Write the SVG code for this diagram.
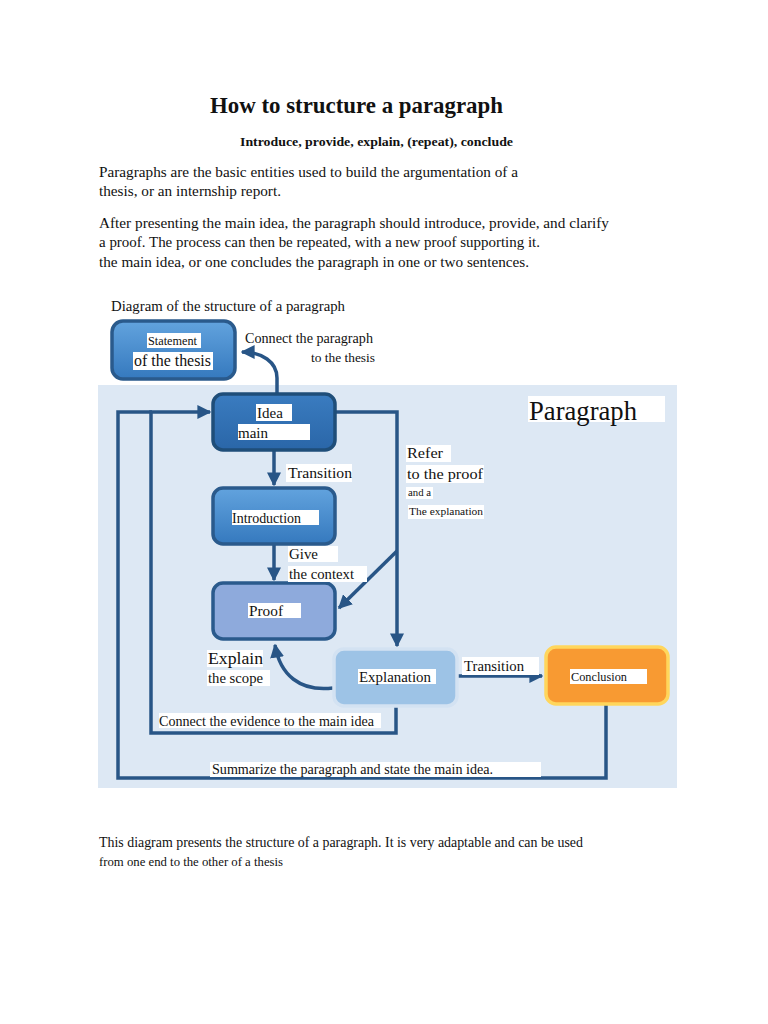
<svg xmlns="http://www.w3.org/2000/svg" width="768" height="1024" viewBox="0 0 768 1024">
<style>
.serif{font-family:"Liberation Serif","Times New Roman",serif;fill:#111}
.lbl{fill:#fff}
.con{fill:none;stroke:#285586;stroke-width:3.5}
.node{stroke-width:3.5}
</style>
<defs>
<linearGradient id="gBlue" x1="0" y1="0" x2="0" y2="1">
<stop offset="0" stop-color="#62a3de"/>
<stop offset="1" stop-color="#3579be"/>
</linearGradient>
<linearGradient id="gIdea" x1="0" y1="0" x2="0" y2="1">
<stop offset="0" stop-color="#3a7cc0"/>
<stop offset="1" stop-color="#2a66a8"/>
</linearGradient>
<marker id="arr" viewBox="0 0 10 10" refX="9" refY="5" markerWidth="4" markerHeight="4" orient="auto" markerUnits="strokeWidth">
<path d="M0,0 L10,5 L0,10 z" fill="#285586"/>
</marker>
</defs>
<rect width="768" height="1024" fill="#fff"/>

<g id="header">
<text class="serif" x="210" y="113" font-size="23" font-weight="bold" textLength="293" lengthAdjust="spacingAndGlyphs">How to structure a paragraph</text>
<text class="serif" x="240" y="146" font-size="13.5" font-weight="bold" textLength="273" lengthAdjust="spacingAndGlyphs">Introduce, provide, explain, (repeat), conclude</text>
<text class="serif" x="99" y="177" font-size="15" textLength="419" lengthAdjust="spacingAndGlyphs">Paragraphs are the basic entities used to build the argumentation of a</text>
<text class="serif" x="99" y="196" font-size="15" textLength="182" lengthAdjust="spacingAndGlyphs">thesis, or an internship report.</text>
<text class="serif" x="99" y="228" font-size="15" textLength="510" lengthAdjust="spacingAndGlyphs">After presenting the main idea, the paragraph should introduce, provide, and clarify</text>
<text class="serif" x="99" y="247" font-size="15" textLength="441" lengthAdjust="spacingAndGlyphs">a proof. The process can then be repeated, with a new proof supporting it.</text>
<text class="serif" x="99" y="267" font-size="15" textLength="430" lengthAdjust="spacingAndGlyphs">the main idea, or one concludes the paragraph in one or two sentences.</text>
</g>

<text class="serif" x="111" y="311" font-size="14.8" textLength="234" lengthAdjust="spacingAndGlyphs">Diagram of the structure of a paragraph</text>

<rect id="panel" x="98" y="385" width="579" height="403" fill="#dde8f4"/>

<g id="panel-title">
<rect class="lbl" x="528" y="396" width="137" height="26"/>
<text class="serif" x="529" y="420" font-size="27" textLength="108" lengthAdjust="spacingAndGlyphs">Paragraph</text>
</g>

<g id="connectors">
<path class="con" d="M277,393 L277,378 C277,362 262,352 242,352" marker-end="url(#arr)"/>
<path class="con" d="M274,450 L274,485" marker-end="url(#arr)"/>
<path class="con" d="M274,545 L274,580" marker-end="url(#arr)"/>
<path class="con" d="M336,412 L397,412 L397,646" marker-end="url(#arr)"/>
<path class="con" d="M397,551 L339,608" marker-end="url(#arr)"/>
<path class="con" d="M333,688 C300,692 280,675 275,645" marker-end="url(#arr)"/>
<path class="con" d="M458,676 L542,676" marker-end="url(#arr)"/>
<path class="con" d="M396,707 L396,733 L151,733 L151,412 L210,412" marker-end="url(#arr)"/>
<path class="con" d="M606,705 L606,778 L118,778 L118,412 L152,412"/>
</g>

<g id="statement">
<rect class="node" x="112" y="321" width="123" height="58" rx="11" fill="url(#gBlue)" stroke="#2a5a8c"/>
<rect class="lbl" x="147" y="333" width="54" height="15"/>
<text class="serif" x="148" y="345" font-size="12" textLength="49" lengthAdjust="spacingAndGlyphs">Statement</text>
<rect class="lbl" x="133" y="352" width="80" height="18"/>
<text class="serif" x="134" y="366" font-size="16" textLength="77" lengthAdjust="spacingAndGlyphs">of the thesis</text>
</g>

<g id="idea">
<rect class="node" x="213" y="394" width="122" height="56" rx="10" fill="url(#gIdea)" stroke="#1f4e79"/>
<rect class="lbl" x="256" y="404" width="36" height="17"/>
<text class="serif" x="257" y="418" font-size="15">Idea</text>
<rect class="lbl" x="238" y="424" width="72" height="16"/>
<text class="serif" x="238" y="438" font-size="15">main</text>
</g>

<g id="introduction">
<rect class="node" x="213" y="488" width="122" height="56" rx="10" fill="url(#gBlue)" stroke="#2a5a8c"/>
<rect class="lbl" x="232" y="510" width="87" height="15"/>
<text class="serif" x="232" y="523" font-size="14" textLength="69" lengthAdjust="spacingAndGlyphs">Introduction</text>
</g>

<g id="proof">
<rect class="node" x="213" y="583" width="122" height="56" rx="10" fill="#8eaadc" stroke="#2a5a8c"/>
<rect class="lbl" x="248" y="603" width="53" height="15"/>
<text class="serif" x="249" y="616" font-size="15.5" textLength="34" lengthAdjust="spacingAndGlyphs">Proof</text>
</g>

<g id="explanation">
<rect class="node" x="334" y="649" width="123" height="57" rx="10" fill="#9dc3e6" stroke="#d3e2f2"/>
<rect class="lbl" x="358" y="669" width="78" height="15"/>
<text class="serif" x="359" y="682" font-size="14.5" textLength="72" lengthAdjust="spacingAndGlyphs">Explanation</text>
</g>

<g id="conclusion">
<rect class="node" x="546" y="647" width="122" height="57" rx="10" fill="#f89a32" stroke="#ffd65c"/>
<rect class="lbl" x="570" y="669" width="77" height="15"/>
<text class="serif" x="571" y="681" font-size="12.5" textLength="56" lengthAdjust="spacingAndGlyphs">Conclusion</text>
</g>

<g id="labels">
<text class="serif" x="245" y="343" font-size="14" textLength="128" lengthAdjust="spacingAndGlyphs">Connect the paragraph</text>
<text class="serif" x="311" y="362" font-size="13" textLength="64" lengthAdjust="spacingAndGlyphs">to the thesis</text>
<rect class="lbl" x="286" y="464" width="66" height="18"/>
<text class="serif" x="288" y="478" font-size="15.5" textLength="64" lengthAdjust="spacingAndGlyphs">Transition</text>
<rect class="lbl" x="406" y="445" width="45" height="17"/>
<text class="serif" x="407" y="458" font-size="15.5" textLength="36" lengthAdjust="spacingAndGlyphs">Refer</text>
<rect class="lbl" x="406" y="465" width="78" height="18"/>
<text class="serif" x="407" y="479" font-size="15.5" textLength="76" lengthAdjust="spacingAndGlyphs">to the proof</text>
<rect class="lbl" x="406" y="487" width="27" height="12"/>
<text class="serif" x="408" y="496" font-size="10.5" textLength="23" lengthAdjust="spacingAndGlyphs">and a</text>
<rect class="lbl" x="408" y="505" width="76" height="14"/>
<text class="serif" x="409" y="515" font-size="11.4" textLength="74" lengthAdjust="spacingAndGlyphs">The explanation</text>
<rect class="lbl" x="288" y="546" width="50" height="16"/>
<text class="serif" x="289" y="559" font-size="15" textLength="29" lengthAdjust="spacingAndGlyphs">Give</text>
<rect class="lbl" x="288" y="566" width="79" height="16"/>
<text class="serif" x="289" y="579" font-size="14.8" textLength="65" lengthAdjust="spacingAndGlyphs">the context</text>
<rect class="lbl" x="207" y="650" width="56" height="17"/>
<text class="serif" x="208" y="664" font-size="17.5" textLength="55" lengthAdjust="spacingAndGlyphs">Explain</text>
<rect class="lbl" x="207" y="670" width="63" height="16"/>
<text class="serif" x="208" y="683" font-size="14.5" textLength="55" lengthAdjust="spacingAndGlyphs">the scope</text>
<rect class="lbl" x="462" y="657" width="77" height="18"/>
<text class="serif" x="464" y="671" font-size="14.7" textLength="60" lengthAdjust="spacingAndGlyphs">Transition</text>
<rect class="lbl" x="159" y="713" width="222" height="15"/>
<text class="serif" x="159" y="726" font-size="14" textLength="215" lengthAdjust="spacingAndGlyphs">Connect the evidence to the main idea</text>
<rect class="lbl" x="210" y="762" width="331" height="15"/>
<text class="serif" x="212" y="774" font-size="14" textLength="281" lengthAdjust="spacingAndGlyphs">Summarize the paragraph and state the main idea.</text>
</g>

<g id="footer">
<text class="serif" x="99" y="847" font-size="14" textLength="484" lengthAdjust="spacingAndGlyphs">This diagram presents the structure of a paragraph. It is very adaptable and can be used</text>
<text class="serif" x="99" y="866" font-size="12" textLength="184" lengthAdjust="spacingAndGlyphs">from one end to the other of a thesis</text>
</g>
</svg>
